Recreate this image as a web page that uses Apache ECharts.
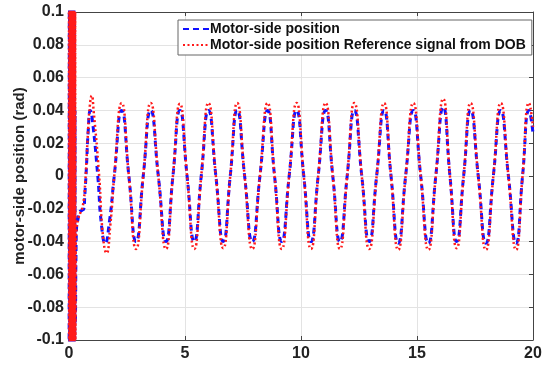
<!DOCTYPE html>
<html>
<head>
<meta charset="utf-8">
<script src="https://cdn.jsdelivr.net/npm/echarts@6/dist/echarts.min.js"></script>
<style>
  html, body { margin: 0; padding: 0; background: #fff; }
  #char { width: 543px; height: 365px; }
</style>
</head>
<body>
<div id="char"></div>
<script>
// start-up part (dense swing near t=0)
var redStartT = [0, 0.012, 0.024, 0.036, 0.048, 0.06, 0.072, 0.084, 0.096, 0.108, 0.12, 0.132, 0.144, 0.156, 0.168, 0.18, 0.192, 0.204, 0.216, 0.228, 0.24, 0.252, 0.264, 0.276, 0.29, 0.33, 0.40, 0.50, 0.60, 0.70, 0.80, 0.90, 0.98, 1.06, 1.30, 1.46, 1.62, 1.78];
var redStartV = [0.13, -0.13, 0.13, -0.13, 0.13, -0.13, 0.13, -0.13, 0.13, -0.13, 0.13, -0.13, 0.13, -0.13, 0.13, -0.13, 0.13, -0.13, 0.12, -0.12, 0.11, -0.11, 0.1, -0.1, -0.045, -0.032, -0.026, -0.022, -0.018, -0.004, 0.022, 0.043, 0.049, 0.04, 0.0, -0.036, -0.047, -0.03];
var blueStartT = [0.006, 0.018, 0.03, 0.042, 0.054, 0.066, 0.078, 0.09, 0.102, 0.114, 0.126, 0.138, 0.15, 0.162, 0.174, 0.186, 0.198, 0.21, 0.222, 0.234, 0.246, 0.258, 0.27, 0.28, 0.30, 0.33, 0.38, 0.45, 0.55, 0.64, 0.68, 0.75, 0.83, 0.92, 1.0, 1.24, 1.40, 1.56, 1.74];
var blueStartV = [-0.13, 0.13, -0.13, 0.13, -0.13, 0.13, -0.13, 0.13, -0.13, 0.13, -0.13, 0.13, -0.13, 0.13, -0.13, 0.13, -0.13, 0.12, -0.12, 0.1, -0.1, 0.04, -0.09, -0.085, -0.05, -0.03, -0.027, -0.022, -0.021, -0.02, -0.012, 0.005, 0.028, 0.040, 0.035, 0.0, -0.03, -0.041, -0.028];

// steady oscillation: peaks, troughs and zero crossings
var cycleT = [1.95, 2.27, 2.58, 2.89, 3.20, 3.52, 3.85, 4.18, 4.48, 4.78, 5.09, 5.40, 5.70, 6.01, 6.33, 6.65, 6.95, 7.25, 7.57, 7.90, 8.23, 8.56, 8.86, 9.17, 9.49, 9.81, 10.12, 10.43, 10.74, 11.06, 11.37, 11.68, 11.99, 12.30, 12.62, 12.94, 13.26, 13.58, 13.88, 14.19, 14.51, 14.84, 15.16, 15.49, 15.81, 16.13, 16.42, 16.71, 17.01, 17.31, 17.64, 17.97, 18.29, 18.61, 18.94, 19.27, 19.55, 19.83, 20];
var redCycle = [0, 0.0445, 0, -0.0445, 0, 0.0445, 0, -0.0445, 0, 0.044, 0, -0.0445, 0, 0.0445, 0, -0.044, 0, 0.0445, 0, -0.0445, 0, 0.0445, 0, -0.0445, 0, 0.0445, 0, -0.0445, 0, 0.0445, 0, -0.0445, 0, 0.0445, 0, -0.0445, 0, 0.0445, 0, -0.045, 0, 0.0445, 0, -0.045, 0, 0.047, 0, -0.044, 0, 0.0445, 0, -0.045, 0, 0.0445, 0, -0.045, 0, 0.0445, 0.03];
var blueCycle = [0, 0.040, 0, -0.040, 0, 0.040, 0, -0.040, 0, 0.040, 0, -0.040, 0, 0.040, 0, -0.040, 0, 0.040, 0, -0.040, 0, 0.040, 0, -0.040, 0, 0.040, 0, -0.040, 0, 0.040, 0, -0.040, 0, 0.040, 0, -0.040, 0, 0.040, 0, -0.041, 0, 0.040, 0, -0.041, 0, 0.042, 0, -0.040, 0, 0.040, 0, -0.041, 0, 0.040, 0, -0.041, 0, 0.040, 0.026];

var yTicks = ['-0.1', '-0.08', '-0.06', '-0.04', '-0.02', '0', '0.02', '0.04', '0.06', '0.08', '0.1'];
var names = ['Motor-side position', 'Motor-side position Reference signal from DOB'];

function pairs(t1, v1, t2, v2) {
    var out = [];
    for (var i = 0; i < t1.length; i++) out.push([t1[i], v1[i]]);
    for (var j = 0; j < t2.length; j++) out.push([t2[j], v2[j]]);
    return out;
}

var dom = document.getElementById("char");
var myChart = echarts.init(dom, null, { renderer: 'canvas' });

var boxAxis = { show: true, onZero: false, lineStyle: { color: '#444', width: 1 } };
var lblFont = { color: '#222', fontSize: 16, fontWeight: 'bold', fontFamily: 'Liberation Sans, Arial, sans-serif' };

option = {
    animation: false,
    backgroundColor: '#fff',
    grid: { left: 69, right: 10, top: 12, bottom: 25, containLabel: false, outerBoundsMode: 'none' },
    legend: {
        orient: 'vertical',
        left: 178,
        top: 20,
        padding: [2, 6, 3, 4],
        itemGap: 2,
        itemWidth: 26,
        itemHeight: 14,
        backgroundColor: '#fff',
        borderColor: '#666',
        borderWidth: 1,
        itemStyle: { opacity: 0 },
        data: names,
        textStyle: { color: '#111', fontSize: 14, fontWeight: 'bold', fontFamily: 'Liberation Sans, Arial, sans-serif', padding: [0, 0, 0, -4] }
    },
    xAxis: [{
        type: 'value', min: 0, max: 20, interval: 5,
        axisLine: boxAxis,
        axisTick: { inside: true, length: 4, lineStyle: { color: '#444' } },
        axisLabel: Object.assign({ margin: 6 }, lblFont),
        splitLine: { show: true, lineStyle: { color: '#e3e3e3', width: 1 } }
    }, {
        type: 'value', min: 0, max: 20, interval: 5, position: 'top',
        axisLine: boxAxis,
        axisTick: { inside: true, length: 4, lineStyle: { color: '#444' } },
        axisLabel: { show: false },
        splitLine: { show: false }
    }],
    yAxis: [{
        type: 'value', min: -0.1, max: 0.1, interval: 0.02,
        name: 'motor-side position (rad)',
        nameLocation: 'middle',
        nameGap: 42,
        nameMoveOverlap: false,
        nameTextStyle: { color: '#222', fontSize: 15, fontWeight: 'bold', fontFamily: 'Liberation Sans, Arial, sans-serif' },
        axisLine: boxAxis,
        axisTick: { inside: true, length: 4, lineStyle: { color: '#444' } },
        axisLabel: Object.assign({ margin: 5, formatter: function (v) {
            var k = Math.round(v * 50) + 5;
            return yTicks[k];
        } }, lblFont),
        splitLine: { show: true, lineStyle: { color: '#e3e3e3', width: 1 } }
    }, {
        type: 'value', min: -0.1, max: 0.1, interval: 0.02, position: 'right',
        axisLine: boxAxis,
        axisTick: { inside: true, length: 4, lineStyle: { color: '#444' } },
        axisLabel: { show: false },
        splitLine: { show: false }
    }],
    series: [{
        name: names[0],
        type: 'line',
        xAxisIndex: 0, yAxisIndex: 0,
        showSymbol: false,
        symbol: 'none',
        smooth: 0.55,
        clip: true,
        lineStyle: { color: '#1010ff', width: 3, type: [6, 4] },
        itemStyle: { color: '#1010ff' },
        data: pairs(blueStartT, blueStartV, cycleT, blueCycle)
    }, {
        name: names[1],
        type: 'line',
        xAxisIndex: 0, yAxisIndex: 0,
        showSymbol: false,
        symbol: 'none',
        smooth: 0.55,
        clip: true,
        lineStyle: { color: '#ff1a1a', width: 2.5, type: [2, 2.5] },
        itemStyle: { color: '#ff1a1a' },
        data: pairs(redStartT, redStartV, cycleT, redCycle)
    }]
};
myChart.setOption(option);
</script>
</body>
</html>
